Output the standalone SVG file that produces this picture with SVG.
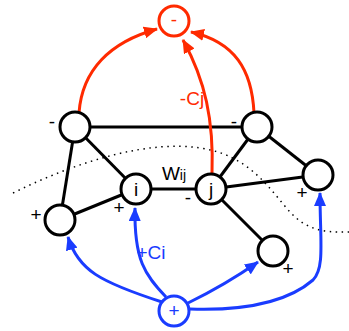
<svg xmlns="http://www.w3.org/2000/svg" width="349" height="331" viewBox="0 0 349 331">
<style>
.node{fill:#fff;stroke:#000;stroke-width:3}
.edge{stroke:#000;stroke-width:3;fill:none}
.red{stroke:#ff2a00;stroke-width:3;fill:none}
.blue{stroke:#1a3cff;stroke-width:3;fill:none}
.dot{stroke:#000;stroke-width:1.5;fill:none;stroke-dasharray:1.5 4.5}
text{font-family:"Liberation Sans",Arial,sans-serif;font-size:19px;text-anchor:middle}
.rt{fill:#ff2a00}
.bt{fill:#1a3cff}
</style>
<defs>
<marker id="ar" markerUnits="userSpaceOnUse" markerWidth="14" markerHeight="12" viewBox="0 0 14 12" refX="13" refY="6" orient="auto"><path d="M0,0 L14,6 L0,12 Z" fill="#ff2a00"/></marker>
<marker id="ab" markerUnits="userSpaceOnUse" markerWidth="14" markerHeight="12" viewBox="0 0 14 12" refX="13" refY="6" orient="auto"><path d="M0,0 L14,6 L0,12 Z" fill="#1a3cff"/></marker>
</defs>
<path class="dot" d="M13,193 C80,160 150,140 200,148 C250,155 270,190 290,212 C305,228 320,233 349,232"/>
<g id="connectors">
<line class="edge" x1="75" y1="127" x2="257" y2="127"/>
<line class="edge" x1="75" y1="127" x2="136" y2="189"/>
<line class="edge" x1="75" y1="127" x2="60" y2="220"/>
<line class="edge" x1="60" y1="220" x2="136" y2="189"/>
<line class="edge" x1="136" y1="189" x2="211" y2="189"/>
<line class="edge" x1="211" y1="189" x2="257" y2="127"/>
<line class="edge" x1="211" y1="189" x2="318" y2="175"/>
<line class="edge" x1="257" y1="127" x2="318" y2="175"/>
<line class="edge" x1="211" y1="189" x2="273" y2="251"/>
<path class="red" d="M79,113 C82,70 110,42 157,29" marker-end="url(#ar)"/>
<path class="red" d="M254,113 C252,70 235,42 191,32" marker-end="url(#ar)"/>
<path class="red" d="M212,174 C214,120 205,80 183,40" marker-end="url(#ar)"/>
<path class="blue" d="M162,302 C100,282 78,270 68,237" marker-end="url(#ab)"/>
<path class="blue" d="M166,297 C145,275 134,260 135,208" marker-end="url(#ab)"/>
<path class="blue" d="M188,303 Q225,285 258,262" marker-end="url(#ab)"/>
<path class="blue" d="M190,309 C250,311 290,300 313,280 C325,268 320,240 320,193" marker-end="url(#ab)"/>
</g>
<g id="node-top"><circle cx="174" cy="21" r="15" fill="#fff" stroke="#ff2a00" stroke-width="3"/><text class="rt" x="174" y="26" font-size="17">-</text></g>
<g id="node-A"><circle class="node" cx="75" cy="127" r="15"/><text x="52" y="128">-</text></g>
<g id="node-B"><circle class="node" cx="257" cy="127" r="15"/><text x="234" y="128">-</text></g>
<g id="node-i"><circle class="node" cx="136" cy="189" r="15"/><text x="136" y="196">i</text><text x="119" y="214">+</text></g>
<g id="node-j"><circle class="node" cx="211" cy="189" r="15"/><text x="211" y="196">j</text><text x="188" y="204">-</text></g>
<g id="node-R"><circle class="node" cx="318" cy="175" r="15"/><text x="302" y="199">+</text></g>
<g id="node-L"><circle class="node" cx="60" cy="220" r="15"/><text x="36" y="221">+</text></g>
<g id="node-BR"><circle class="node" cx="273" cy="251" r="15"/><text x="288" y="275">+</text></g>
<g id="node-bottom"><circle cx="174" cy="311" r="15" fill="#fff" stroke="#1a3cff" stroke-width="3"/><text class="bt" x="174" y="317">+</text></g>
<text x="174" y="180" font-size="18">W<tspan font-size="14">ij</tspan></text>
<text class="rt" x="192" y="105" font-size="16">-Cj</text>
<text class="bt" x="151" y="259" font-size="16">+Ci</text>
</svg>
